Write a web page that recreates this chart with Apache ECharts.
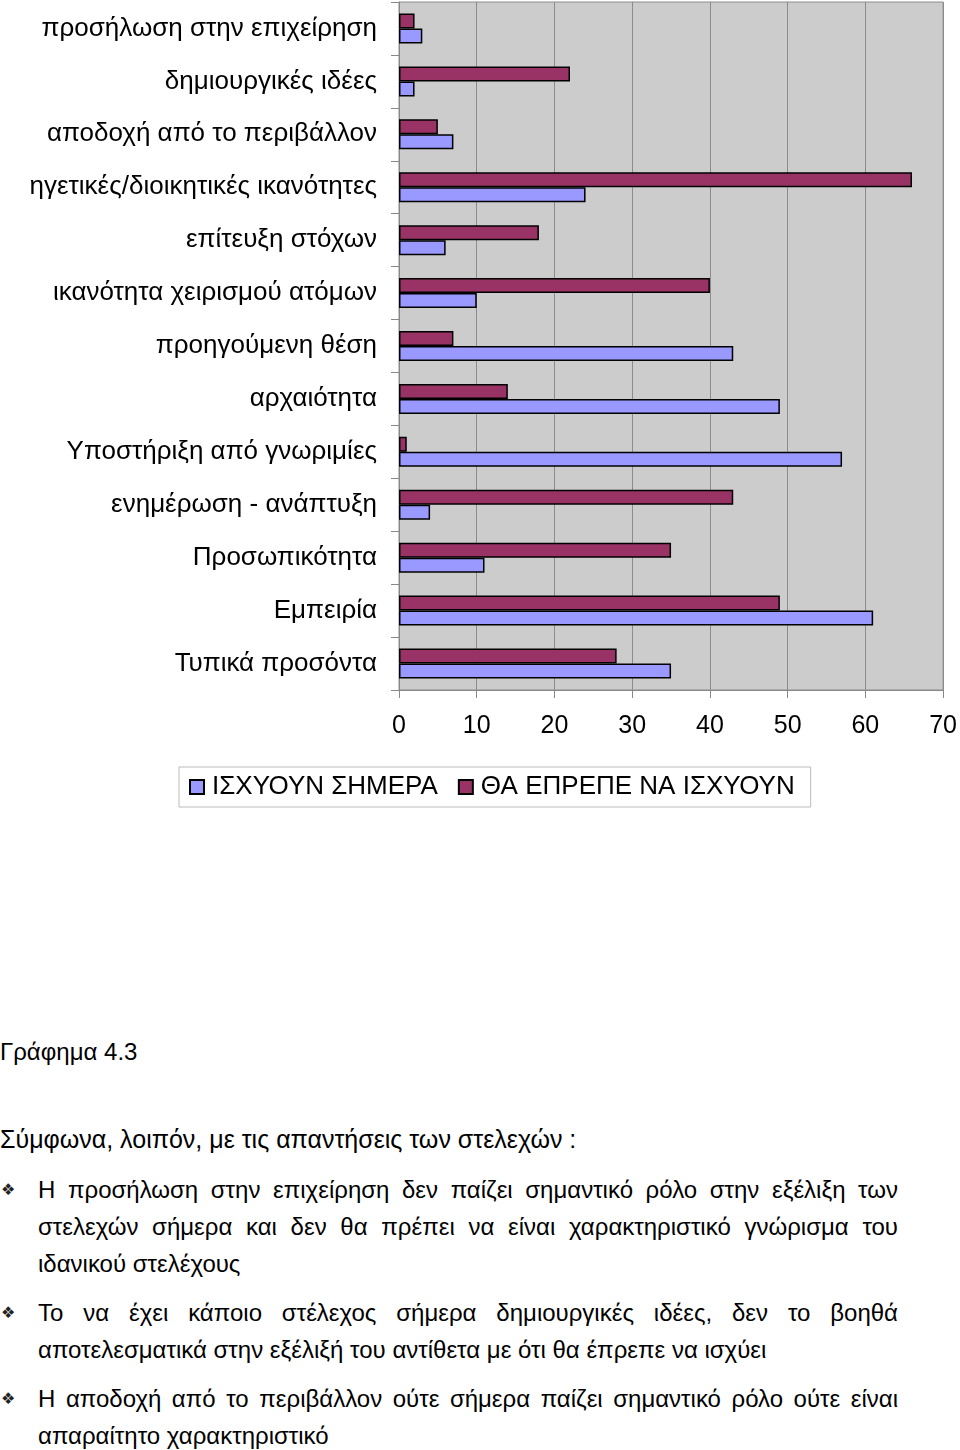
<!DOCTYPE html>
<html>
<head>
<meta charset="utf-8">
<script src="https://cdn.jsdelivr.net/npm/echarts@6/dist/echarts.min.js"></script>
<style>
html,body{margin:0;padding:0;background:#fff;width:960px;height:1450px;overflow:hidden;}
#chart{position:absolute;left:0;top:0;width:960px;height:830px;}
.t{position:absolute;font-family:"Liberation Sans",Arial,sans-serif;color:#000;white-space:nowrap;}
.b{position:absolute;left:38px;width:860px;font-family:"Liberation Sans",Arial,sans-serif;font-size:24px;line-height:37px;color:#000;text-align:justify;}
.m{position:absolute;left:1px;font-family:"DejaVu Sans",sans-serif;font-size:16px;color:#222;}
</style>
</head>
<body>
<div id="chart"></div>
<div class="t" style="left:0;top:1038px;font-size:24px;">Γράφημα 4.3</div>
<div class="t" style="left:0;top:1125px;font-size:25px;">Σύμφωνα, λοιπόν, με τις απαντήσεις των στελεχών :</div>
<div class="m" style="top:1180px;">❖</div>
<div class="b" style="top:1171px;">Η προσήλωση στην επιχείρηση δεν παίζει σημαντικό ρόλο στην εξέλιξη των στελεχών σήμερα και δεν θα πρέπει να είναι χαρακτηριστικό γνώρισμα του ιδανικού στελέχους</div>
<div class="m" style="top:1303px;">❖</div>
<div class="b" style="top:1294px;">Το να έχει κάποιο στέλεχος σήμερα δημιουργικές ιδέες, δεν το βοηθά αποτελεσματικά στην εξέλιξή του αντίθετα με ότι θα έπρεπε να ισχύει</div>
<div class="m" style="top:1389px;">❖</div>
<div class="b" style="top:1380px;">Η αποδοχή από το περιβάλλον ούτε σήμερα παίζει σημαντικό ρόλο ούτε είναι απαραίτητο χαρακτηριστικό</div>
<script>
// categories from top to bottom
const categories = [
  'προσήλωση στην επιχείρηση',
  'δημιουργικές ιδέες',
  'αποδοχή από το περιβάλλον',
  'ηγετικές/διοικητικές ικανότητες',
  'επίτευξη στόχων',
  'ικανότητα χειρισμού ατόμων',
  'προηγούμενη θέση',
  'αρχαιότητα',
  'Υποστήριξη από γνωριμίες',
  'ενημέρωση - ανάπτυξη',
  'Προσωπικότητα',
  'Εμπειρία',
  'Τυπικά προσόντα'
];
const seriesNames = ['ΙΣΧΥΟΥΝ ΣΗΜΕΡΑ', 'ΘΑ ΕΠΡΕΠΕ ΝΑ ΙΣΧΥΟΥΝ'];
const todayValues = [3, 2, 7, 24, 6, 10, 43, 49, 57, 4, 11, 61, 35];
const shouldValues = [2, 22, 5, 66, 18, 40, 7, 14, 1, 43, 35, 49, 28];
const xTicks = [0, 70, 10];

const FONT = '"Liberation Sans", Arial, sans-serif';
const chart = echarts.init(document.getElementById('chart'), null, {renderer: 'canvas'});
chart.setOption({
  animation: false,
  backgroundColor: '#ffffff',
  textStyle: {fontFamily: FONT},
  grid: {
    left: 399, right: 16, top: 2, height: 688,
    show: true, backgroundColor: '#cccccc', borderColor: '#8c8c8c', borderWidth: 1
  },
  legend: {
    data: seriesNames,
    left: 179, top: 767,
    backgroundColor: '#ffffff', borderColor: '#bbbbbb', borderWidth: 1,
    padding: [7, 16, 7, 10],
    itemGap: 20, itemWidth: 14, itemHeight: 14,
    icon: 'rect',
    textStyle: {fontSize: 26, color: '#000', fontFamily: FONT, padding: [0, 0, 0, 3]}
  },
  xAxis: {
    type: 'value', min: xTicks[0], max: xTicks[1], interval: xTicks[2],
    axisLine: {show: true, lineStyle: {color: '#888', width: 1}},
    axisTick: {show: true, length: 8, lineStyle: {color: '#888'}},
    axisLabel: {fontSize: 25, color: '#000', margin: 24, fontFamily: FONT},
    splitLine: {show: true, lineStyle: {color: '#8c8c8c', width: 1}}
  },
  yAxis: {
    type: 'category', data: categories, inverse: true,
    axisLine: {show: true, lineStyle: {color: '#888', width: 1}},
    axisTick: {show: true, length: 8, lineStyle: {color: '#888'}},
    axisLabel: {fontSize: 26, color: '#000', margin: 22, fontFamily: FONT}
  },
  series: [
    {
      name: seriesNames[1], type: 'bar', data: shouldValues,
      barWidth: 15, barGap: '0%',
      itemStyle: {color: '#993366', borderColor: '#000', borderWidth: 1.5}
    },
    {
      name: seriesNames[0], type: 'bar', data: todayValues,
      barWidth: 15, barGap: '0%',
      itemStyle: {color: '#9999ff', borderColor: '#000', borderWidth: 1.5}
    }
  ]
});
</script>
</body>
</html>
